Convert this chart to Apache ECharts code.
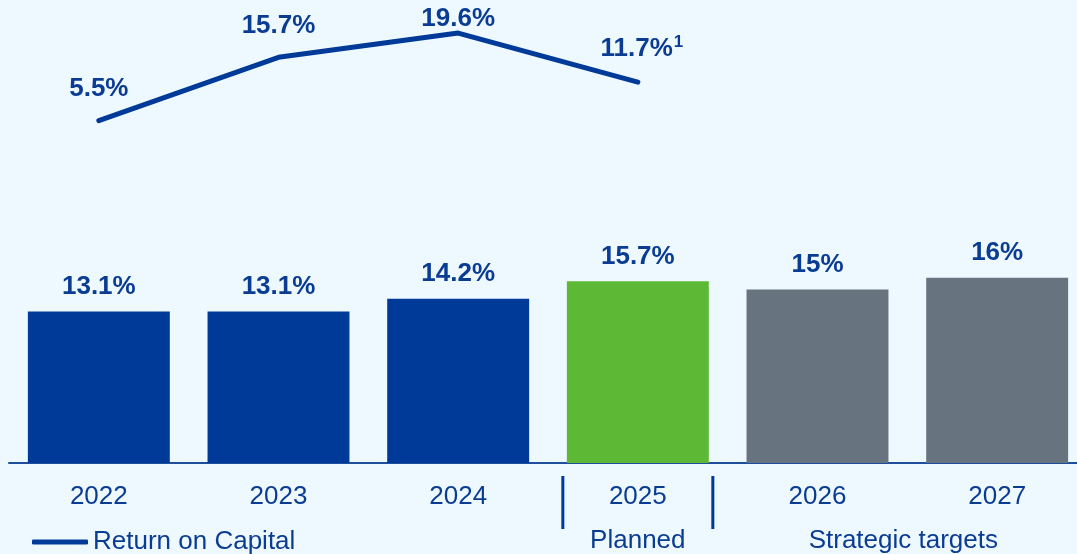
<!DOCTYPE html>
<html>
<head>
<meta charset="utf-8">
<style>
  html, body { margin: 0; padding: 0; background: #eef9ff; overflow: hidden; }
  #chart { width: 1088px; height: 554px; }
</style>
<script src="https://cdn.jsdelivr.net/npm/echarts@6/dist/echarts.min.js"></script>
</head>
<body>
<div id="chart"></div>
<script>
// Years on the category axis
const years = ['2022', '2023', '2024', '2025', '2026', '2027'];
// Bar series values (%)
const barValues = [13.1, 13.1, 14.2, 15.7, 15, 16];
const barLabels = ['13.1%', '13.1%', '14.2%', '15.7%', '15%', '16%'];
// Return on Capital (%), reported through 2025
const rocValues = [5.5, 15.7, 19.6, 11.7];
const rocLabels = ['5.5%', '15.7%', '19.6%', '11.7%'];
// Group captions under the axis
const groupNames = ['Planned', 'Strategic targets'];

const BLUE = '#003a99';
const TEXT = '#0b3c93';
const GREEN = '#5cb835';
const GREY = '#67737f';
const FONT = '"Liberation Sans", Arial, sans-serif';

const barColors = [BLUE, BLUE, BLUE, GREEN, GREY, GREY];

const chart = echarts.init(document.getElementById('chart'));

const lineLabel = {
  show: true,
  position: 'top',
  distance: 18,
  color: TEXT,
  fontSize: 26,
  fontWeight: 'bold',
  fontFamily: FONT
};

const option = {
  backgroundColor: '#eef9ff',
  animation: false,
  textStyle: { fontFamily: FONT },
  grid: { left: 9, top: 10, width: 1078, height: 453, containLabel: false },
  legend: {
    data: ['Return on Capital'],
    left: 32,
    top: 529,
    padding: 0,
    icon: 'roundRect',
    itemWidth: 56,
    itemHeight: 5,
    textStyle: { color: TEXT, fontSize: 26, fontFamily: FONT }
  },
  xAxis: {
    type: 'category',
    data: years,
    axisLine: { lineStyle: { color: '#1f4e9c', width: 2 } },
    axisTick: { show: false },
    axisLabel: { color: TEXT, fontSize: 26, margin: 21, fontFamily: FONT }
  },
  yAxis: [
    { type: 'value', min: 0, max: 39.15, show: false, splitLine: { show: false } },
    { type: 'value', min: -49.57, max: 23.31, show: false, splitLine: { show: false } }
  ],
  series: [
    {
      type: 'bar',
      yAxisIndex: 0,
      barWidth: '79%',
      data: barValues.map((v, i) => ({ value: v, itemStyle: { color: barColors[i] } })),
      label: {
        show: true,
        position: 'top',
        distance: 12,
        color: TEXT,
        fontSize: 26,
        fontWeight: 'bold',
        fontFamily: FONT,
        formatter: p => barLabels[p.dataIndex]
      }
    },
    {
      name: 'Return on Capital',
      type: 'line',
      yAxisIndex: 1,
      symbol: 'circle',
      symbolSize: 1,
      showSymbol: true,
      itemStyle: { color: BLUE },
      lineStyle: { color: BLUE, width: 5, cap: 'round', join: 'round' },
      label: lineLabel,
      data: rocValues.map((v, i) => {
        if (i === rocValues.length - 1) {
          return {
            value: v,
            label: {
              formatter: '{v|' + rocLabels[i] + '}{sup|1}',
              offset: [4, 0],
              rich: {
                v: { color: TEXT, fontSize: 26, fontWeight: 'bold', fontFamily: FONT, lineHeight: 30 },
                sup: { color: TEXT, fontSize: 17, fontWeight: 'bold', fontFamily: FONT, lineHeight: 30, verticalAlign: 'top', padding: [0, 0, 14, 1] }
              }
            }
          };
        }
        // the peak label sits closer to its point to stay inside the frame
        const off = v === Math.max.apply(null, rocValues) ? [0, 17] : [0, 0];
        return { value: v, label: { formatter: rocLabels[i], offset: off } };
      })
    }
  ]
};

chart.setOption(option);

// Group separators and captions under the axis
function px(cat) { return chart.convertToPixel({ xAxisIndex: 0 }, cat); }
const planX = px(years[3]);
const sep1 = planX - 75;
const sep2 = planX + 75;
const stratX = (px(years[4]) + px(years[5])) / 2 - 4;

chart.setOption({
  graphic: [
    { type: 'line', shape: { x1: sep1, y1: 476, x2: sep1, y2: 529 }, style: { stroke: BLUE, lineWidth: 3 } },
    { type: 'line', shape: { x1: sep2, y1: 476, x2: sep2, y2: 529 }, style: { stroke: BLUE, lineWidth: 3 } },
    { type: 'text', x: planX, y: 541, style: { text: groupNames[0], fill: TEXT, font: '26px ' + FONT, textAlign: 'center', textVerticalAlign: 'middle' } },
    { type: 'text', x: stratX, y: 541, style: { text: groupNames[1], fill: TEXT, font: '26px ' + FONT, textAlign: 'center', textVerticalAlign: 'middle' } }
  ]
});
</script>
</body>
</html>
